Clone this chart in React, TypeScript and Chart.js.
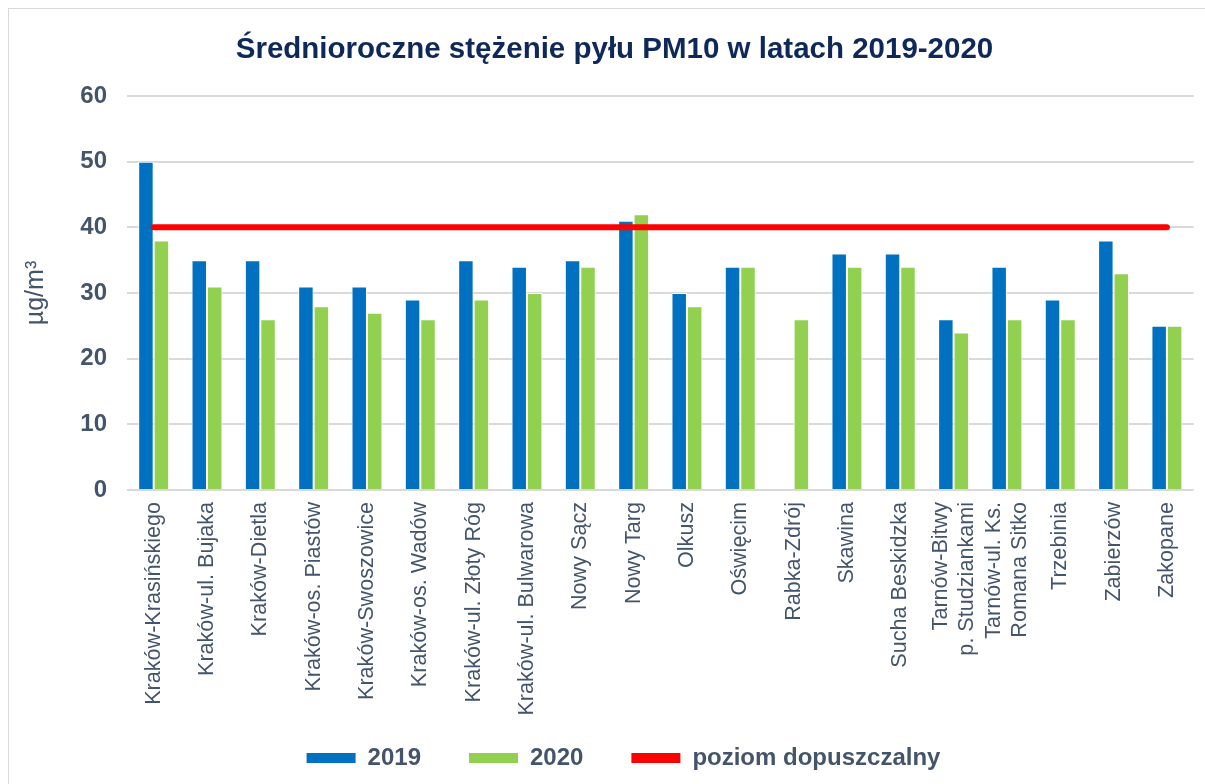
import React, { useEffect, useRef } from 'react';
import { Chart, registerables } from 'chart.js';

Chart.register(...registerables);

const categories: (string | string[])[] = [
  'Kraków-Krasińskiego',
  'Kraków-ul. Bujaka',
  'Kraków-Dietla',
  'Kraków-os. Piastów',
  'Kraków-Swoszowice',
  'Kraków-os. Wadów',
  'Kraków-ul. Złoty Róg',
  'Kraków-ul. Bulwarowa',
  'Nowy Sącz',
  'Nowy Targ',
  'Olkusz',
  'Oświęcim',
  'Rabka-Zdrój',
  'Skawina',
  'Sucha Beskidzka',
  ['Tarnów-Bitwy', 'p. Studziankami'],
  ['Tarnów-ul. Ks.', 'Romana Sitko'],
  'Trzebinia',
  'Zabierzów',
  'Zakopane',
];

const values2019: (number | null)[] = [50, 35, 35, 31, 31, 29, 35, 34, 35, 41, 30, 34, null, 36, 36, 26, 34, 29, 38, 25];
const values2020: number[] = [38, 31, 26, 28, 27, 26, 29, 30, 34, 42, 28, 34, 26, 34, 34, 24, 26, 26, 33, 25];
const limitValues: number[] = [40, 40, 40, 40, 40, 40, 40, 40, 40, 40, 40, 40, 40, 40, 40, 40, 40, 40, 40, 40];

const yTicks = [0, 10, 20, 30, 40, 50, 60];

const TITLE = 'Średnioroczne stężenie pyłu PM10 w latach 2019-2020';
const Y_TITLE = 'µg/m³';
const FONT = "'Liberation Sans', Arial, sans-serif";
const TEXT_COLOR = '#44546A';
const X_FONT_SIZE = 21.6;

const layoutTweaks = {
  id: 'layoutTweaks',
  afterLayout(chart: any) {
    if (chart.legend) {
      chart.legend.left += 20;
      chart.legend.right += 20;
    }
    if (chart.titleBlock) {
      chart.titleBlock.left += 11;
      chart.titleBlock.right += 11;
    }
    const x = chart.scales.x;
    if (x) x.bottom += 80;
  },
  beforeDraw(chart: any) {
    const x = chart.scales.x;
    if (!x) return;
    const items = x.getLabelItems(chart.chartArea);
    const lh = X_FONT_SIZE * 1.2;
    items.forEach((it: any) => {
      if (Array.isArray(it.label) && !it.__centered) {
        it.textOffset -= ((it.label.length - 1) * lh) / 2;
        it.__centered = true;
      }
    });
  },
};

export default function App() {
  const ref = useRef<HTMLCanvasElement | null>(null);

  useEffect(() => {
    if (!ref.current) return;
    const chart = new Chart(ref.current, {
      type: 'bar',
      data: {
        labels: categories as any,
        datasets: [
          {
            type: 'bar',
            label: '2019',
            data: values2019,
            backgroundColor: '#0070C0',
            borderColor: '#FFFFFF',
            borderWidth: 1,
            borderSkipped: 'start',
            categoryPercentage: 0.58,
            barPercentage: 1.0,
            order: 1,
          } as any,
          {
            type: 'bar',
            label: '2020',
            data: values2020,
            backgroundColor: '#92D050',
            borderColor: '#FFFFFF',
            borderWidth: 1,
            borderSkipped: 'start',
            categoryPercentage: 0.58,
            barPercentage: 1.0,
            order: 1,
          } as any,
          {
            type: 'line',
            label: 'poziom dopuszczalny',
            data: limitValues,
            borderColor: '#FF0000',
            backgroundColor: '#FF0000',
            borderWidth: 6,
            borderCapStyle: 'round',
            pointRadius: 0,
            pointHoverRadius: 0,
            fill: false,
            order: 0,
          } as any,
        ],
      },
      options: {
        responsive: false,
        animation: false,
        layout: { padding: { left: 0, right: 7, top: 0, bottom: 4 } },
        plugins: {
          title: {
            display: true,
            text: TITLE,
            color: '#0F285A',
            font: { family: FONT, size: 29.5, weight: 'bold' },
            padding: { top: 23, bottom: 28.6 },
          },
          legend: {
            display: true,
            position: 'bottom',
            labels: {
              boxWidth: 49,
              boxHeight: 10,
              padding: 48,
              color: TEXT_COLOR,
              font: { family: FONT, size: 24, weight: 'bold' },
              sort: (a: any, b: any) => a.datasetIndex - b.datasetIndex,
              generateLabels: (c: any) => {
                const items = (Chart.defaults.plugins.legend.labels as any).generateLabels(c);
                return items.map((it: any) => ({ ...it, lineWidth: 0, strokeStyle: 'rgba(0,0,0,0)' }));
              },
            },
          },
          tooltip: { enabled: false },
        },
        scales: {
          x: {
            offset: true,
            grid: { display: false, drawTicks: false },
            border: { display: false },
            ticks: {
              minRotation: 90,
              maxRotation: 90,
              autoSkip: false,
              padding: 12,
              color: TEXT_COLOR,
              font: { family: FONT, size: X_FONT_SIZE },
            },
            afterFit: (s: any) => {
              s.height = 208;
            },
          },
          y: {
            min: 0,
            max: 60,
            afterBuildTicks: (s: any) => {
              s.ticks = yTicks.map((v) => ({ value: v }));
            },
            grid: { color: '#D9D9D9', lineWidth: 2, drawTicks: false },
            border: { display: false },
            ticks: {
              padding: 20,
              color: TEXT_COLOR,
              font: { family: FONT, size: 24, weight: 'bold' },
            },
            title: {
              display: true,
              text: Y_TITLE,
              color: TEXT_COLOR,
              font: { family: FONT, size: 25 },
              padding: { top: 12, bottom: 0 },
            },
            afterFit: (s: any) => {
              s.width = 118;
            },
          },
        },
      },
      plugins: [layoutTweaks],
    });
    return () => chart.destroy();
  }, []);

  return (
    <div
      style={{
        position: 'fixed',
        left: 8,
        top: 8,
        width: 1197,
        height: 776,
        boxSizing: 'border-box',
        borderLeft: '1px solid #D9D9D9',
        borderTop: '1px solid #D9D9D9',
        background: '#FFFFFF',
      }}
    >
      <canvas ref={ref} width={1196} height={775} style={{ display: 'block' }} />
    </div>
  );
}
